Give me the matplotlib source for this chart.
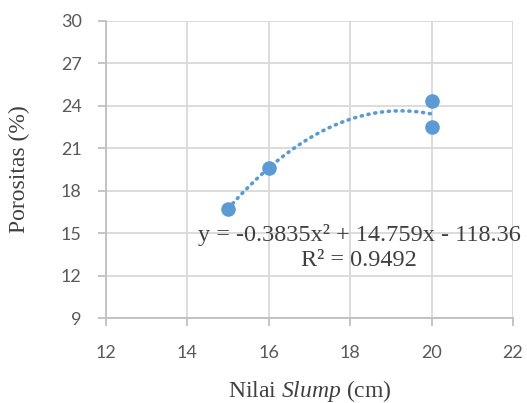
import matplotlib.pyplot as plt
import numpy as np

slump = [15, 16, 20, 20]
porositas = [16.7, 19.6, 24.3, 22.5]
coef = [-0.3835, 14.759, -118.36]
r2 = 0.9492
xticks = [12, 14, 16, 18, 20, 22]
yticks = [9, 12, 15, 18, 21, 24, 27, 30]

blue = "#5B9BD5"
grid = "#D9D9D9"
serif = "Liberation Serif"

plt.rcParams["mathtext.fontset"] = "custom"
plt.rcParams["mathtext.it"] = "Liberation Serif:italic"
plt.rcParams["mathtext.rm"] = "Liberation Serif"

fig = plt.figure(figsize=(5.27, 4.03), dpi=100)
ax = fig.add_axes([0.2011, 0.2102, 0.7723, 0.7384])

xs = np.linspace(min(slump), max(slump), 200)
ax.plot(xs, np.polyval(coef, xs), color=blue, lw=2.6, ls=(0, (0.3, 1.6)),
        dash_capstyle="round", zorder=2)
ax.plot(slump, porositas, "o", color=blue, ms=10.5, mec="none", zorder=3)

ax.set_xlim(12, 22)
ax.set_ylim(9, 30)
ax.set_xticks(xticks)
ax.set_yticks(yticks)
ax.grid(True, color=grid, lw=1.3)
ax.set_axisbelow(True)
for s in ["top", "right"]:
    ax.spines[s].set_visible(False)
for s in ["left", "bottom"]:
    ax.spines[s].set_color("#BFBFBF")
    ax.spines[s].set_linewidth(1.3)
ax.tick_params(colors="#BFBFBF", width=1.3, length=5.5, labelcolor="#595959",
               labelsize=13)
for lab in ax.get_xticklabels() + ax.get_yticklabels():
    lab.set_family("Lato")
ax.tick_params(axis="x", pad=14)
ax.tick_params(axis="y", pad=12)

ax.set_xlabel("Nilai $Slump$ (cm)", family=serif, fontsize=17,
              color="#404040", labelpad=12)
ax.set_ylabel("Porositas (%)", family=serif, fontsize=17, color="#404040",
              labelpad=22)

eq = "y = %.4fx² + %.3fx - %.2f\nR² = %.4f" % (coef[0], coef[1], -coef[2], r2)
ax.text(18.22, 14.0, eq, family=serif, fontsize=17.5, color="#404040",
        ha="center", va="center", linespacing=1.2, zorder=4)

fig.savefig("out.png", dpi=100)
